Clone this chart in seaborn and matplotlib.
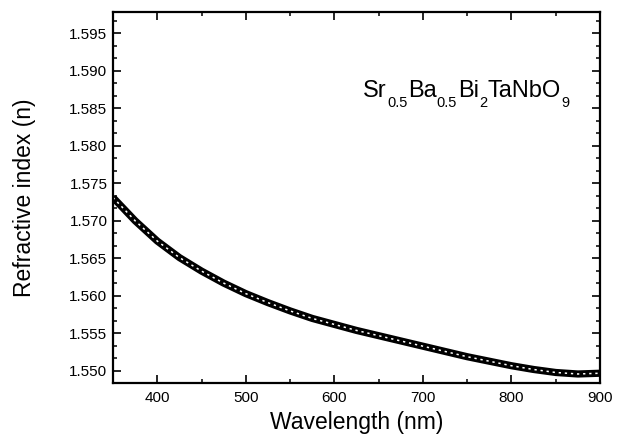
import numpy as np
import pandas as pd
import matplotlib
matplotlib.use("Agg")
import matplotlib.pyplot as plt
from matplotlib.ticker import MultipleLocator, AutoMinorLocator
import seaborn as sns

# Dispersion of the refractive index
wavelength = [350, 375, 400, 425, 450, 475, 500, 525, 550, 575, 600, 625,
              650, 675, 700, 725, 750, 775, 800, 825, 850, 875, 900]
refractive_index = [1.5731, 1.5700, 1.5673, 1.5651, 1.5633, 1.5617, 1.5603,
                    1.5591, 1.5580, 1.5570, 1.5562, 1.5554, 1.5547, 1.5540,
                    1.5533, 1.5526, 1.5519, 1.5513, 1.5507, 1.5502, 1.5498,
                    1.5496, 1.5497]
x_ticks = [400, 500, 600, 700, 800, 900]
y_ticks = [1.550, 1.555, 1.560, 1.565, 1.570, 1.575, 1.580, 1.585, 1.590, 1.595]
# chemical formula as (element group, subscript) pairs
formula = [("Sr", "0.5"), ("Ba", "0.5"), ("Bi", "2"), ("TaNbO", "9")]

df = pd.DataFrame({"wavelength": wavelength, "n": refractive_index})

sns.set_style("ticks")
plt.rcParams["font.family"] = ["Liberation Sans", "DejaVu Sans"]
plt.rcParams["text.color"] = "black"
plt.rcParams["axes.labelcolor"] = "black"

fig = plt.figure(figsize=(6.26, 4.48), dpi=100)
ax = fig.add_axes([0.1805, 0.1451, 0.778, 0.8281])

sns.lineplot(data=df, x="wavelength", y="n", ax=ax, color="black",
             linewidth=5.2, solid_capstyle="butt")
sns.lineplot(data=df, x="wavelength", y="n", ax=ax, color="white",
             linewidth=1.1)
ax.lines[-1].set_dashes([1.5, 2.5])

ax.set_xlim(350, 900)
ax.set_ylim(1.5484, 1.5978)
ax.set_xticks(x_ticks)
ax.set_yticks(y_ticks)
ax.xaxis.set_minor_locator(MultipleLocator(50))
ax.yaxis.set_minor_locator(AutoMinorLocator(3))
ax.set_xticklabels([str(v) for v in x_ticks])
ax.set_yticklabels([f"{v:.3f}" for v in y_ticks])

for side in ["left", "right", "top", "bottom"]:
    ax.spines[side].set_visible(True)
    ax.spines[side].set_linewidth(1.6)
    ax.spines[side].set_color("black")

ax.tick_params(which="both", direction="in", top=True, right=True,
               colors="black", labelsize=11)
ax.tick_params(which="major", length=5.5, width=1.2)
ax.tick_params(which="minor", length=3, width=1.1)
ax.tick_params(axis="x", pad=6)
ax.tick_params(axis="y", pad=4)

ax.set_xlabel("Wavelength (nm)", fontsize=16.5, labelpad=4, color="black")
ax.set_ylabel("Refractive index (n)", fontsize=16.5, labelpad=24, color="black")

# formula with lowered subscripts, each piece chained after the previous one
main_size, sub_size, drop = 17, 10.5, 6
first = ax.text(0.513, 0.757, formula[0][0], transform=ax.transAxes,
                fontsize=main_size, ha="left", va="bottom", color="black")
prev_main = first
for i, (group, sub) in enumerate(formula):
    if i > 0:
        prev_main = ax.annotate(group, xy=(1, 0), xycoords=(prev_sub, first),
                                xytext=(0.3, 0), textcoords="offset points",
                                fontsize=main_size, ha="left", va="bottom",
                                color="black")
    prev_sub = ax.annotate(sub, xy=(1, 0), xycoords=prev_main,
                           xytext=(0.3, -drop), textcoords="offset points",
                           fontsize=sub_size, ha="left", va="bottom",
                           color="black")

fig.savefig("out.png", dpi=100, facecolor="white")
